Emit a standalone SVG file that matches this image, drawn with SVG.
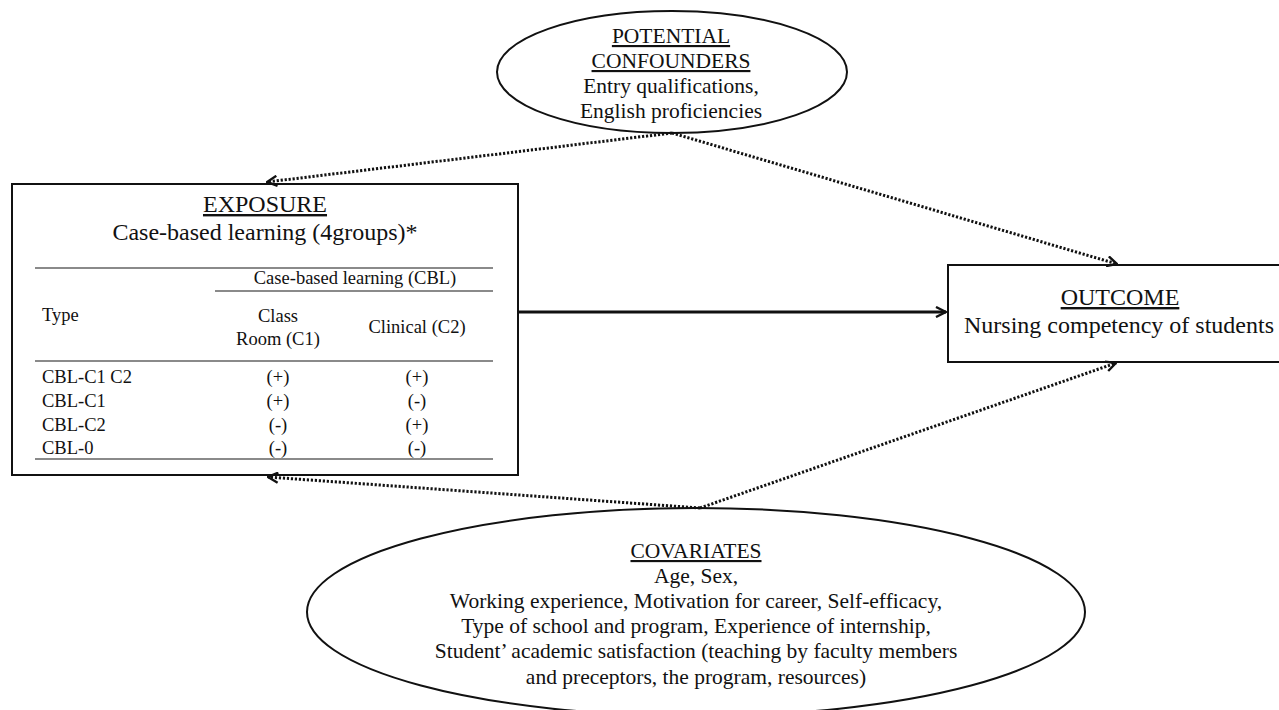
<svg xmlns="http://www.w3.org/2000/svg" width="1279" height="710" viewBox="0 0 1279 710">
<style>
text{font-family:"Liberation Serif","Times New Roman",serif;fill:#111}
.big{font-size:24px}
.mid{font-size:21.5px}
.tb{font-size:18.5px}
.c{text-anchor:middle}
.u{text-decoration:underline}
.box{fill:#fff;stroke:#111;stroke-width:2}
.ell{fill:#fff;stroke:#111;stroke-width:2}
.rule{stroke:#8a8a8a;stroke-width:2}
.dot{fill:none;stroke:#111;stroke-width:3;stroke-dasharray:2.2 1.8}
.solid{fill:none;stroke:#111;stroke-width:3}
</style>
<defs>
<marker id="ah" viewBox="0 0 12 12" refX="11" refY="6" markerWidth="12" markerHeight="12" markerUnits="userSpaceOnUse" orient="auto">
<path d="M1,1 L11,6 L1,11" fill="none" stroke="#111" stroke-width="2.4" stroke-dasharray="none"/>
</marker>
</defs>
<rect width="1279" height="710" fill="#fff"/>

<g id="confounders">
<ellipse class="ell" cx="672" cy="72" rx="175" ry="61"/>
<text class="mid c u" x="671" y="43">POTENTIAL</text>
<text class="mid c u" x="671" y="68">CONFOUNDERS</text>
<text class="mid c" x="671" y="93">Entry qualifications,</text>
<text class="mid c" x="671" y="118">English proficiencies</text>
</g>

<g id="exposure">
<rect class="box" x="12" y="184" width="506" height="291"/>
<text class="big c u" x="265" y="212">EXPOSURE</text>
<text class="big c" x="265" y="240">Case-based learning (4groups)*</text>
<line class="rule" x1="35" y1="268" x2="493" y2="268"/>
<text class="tb c" x="355" y="284">Case-based learning (CBL)</text>
<line class="rule" x1="215" y1="291" x2="493" y2="291"/>
<text class="tb" x="42" y="321">Type</text>
<text class="tb c" x="278" y="322">Class</text>
<text class="tb c" x="278" y="345">Room (C1)</text>
<text class="tb c" x="417" y="333">Clinical (C2)</text>
<line class="rule" x1="35" y1="361" x2="493" y2="361"/>
<text class="tb" x="42" y="383">CBL-C1 C2</text>
<text class="tb c" x="278" y="383">(+)</text>
<text class="tb c" x="417" y="383">(+)</text>
<text class="tb" x="42" y="407">CBL-C1</text>
<text class="tb c" x="278" y="407">(+)</text>
<text class="tb c" x="417" y="407">(-)</text>
<text class="tb" x="42" y="431">CBL-C2</text>
<text class="tb c" x="278" y="431">(-)</text>
<text class="tb c" x="417" y="431">(+)</text>
<text class="tb" x="42" y="454">CBL-0</text>
<text class="tb c" x="278" y="454">(-)</text>
<text class="tb c" x="417" y="454">(-)</text>
<line class="rule" x1="35" y1="459" x2="493" y2="459"/>
</g>

<g id="outcome">
<rect class="box" x="948" y="265" width="340" height="97"/>
<text class="big c u" x="1120" y="305">OUTCOME</text>
<text class="big c" x="1119" y="333">Nursing competency of students</text>
</g>

<g id="covariates">
<ellipse class="ell" cx="696" cy="612" rx="389" ry="104"/>
<text class="mid c u" x="696" y="558">COVARIATES</text>
<text class="mid c" x="696" y="583">Age, Sex,</text>
<text class="mid c" x="696" y="608">Working experience, Motivation for career, Self-efficacy,</text>
<text class="mid c" x="696" y="633">Type of school and program, Experience of internship,</text>
<text class="mid c" x="696" y="658">Student’ academic satisfaction (teaching by faculty members</text>
<text class="mid c" x="696" y="684">and preceptors, the program, resources)</text>
</g>

<g id="connectors">
<line class="solid" x1="518" y1="312" x2="946" y2="312" marker-end="url(#ah)"/>
<line class="dot" x1="672" y1="133" x2="267" y2="182" marker-end="url(#ah)"/>
<line class="dot" x1="672" y1="133" x2="1117" y2="264" marker-end="url(#ah)"/>
<line class="dot" x1="700" y1="508" x2="268" y2="477" marker-end="url(#ah)"/>
<line class="dot" x1="700" y1="508" x2="1116" y2="363" marker-end="url(#ah)"/>
</g>
</svg>
